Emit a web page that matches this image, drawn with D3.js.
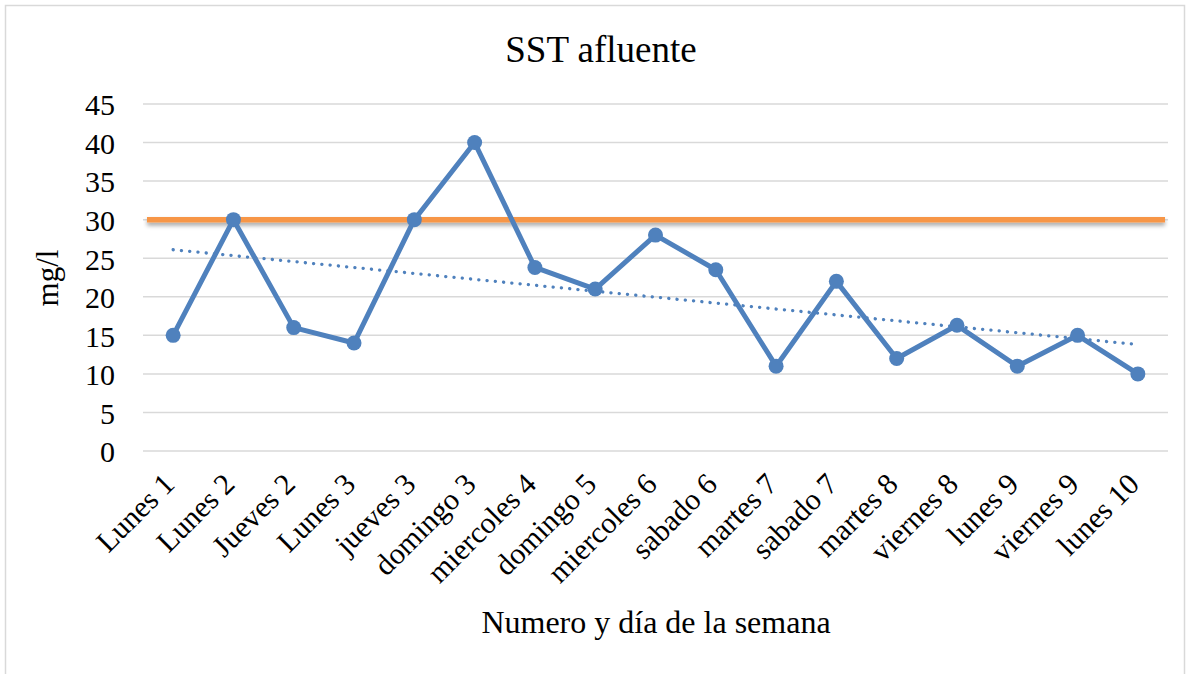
<!DOCTYPE html>
<html>
<head>
<meta charset="utf-8">
<script src="https://cdn.jsdelivr.net/npm/d3@7"></script>
<style>
  body { margin: 0; background: #fff; }
  svg text { font-family: "Liberation Serif", "Times New Roman", serif; fill: #000; }
</style>
</head>
<body>
<div id="chart"></div>
<script>
// Datos
const dias = ["Lunes 1", "Lunes 2", "Jueves 2", "Lunes 3", "jueves 3", "domingo 3",
  "miercoles 4", "domingo 5", "miercoles 6", "sabado 6", "martes 7", "sabado 7",
  "martes 8", "viernes 8", "lunes 9", "viernes 9", "lunes 10"];
const sst = [15, 30, 16, 14, 30, 40, 23.8, 21, 28, 23.5, 11, 22, 12, 16.3, 11, 15, 10];
const limite = 30;                 // linea naranja
const tendencia = [26.1, 13.8];    // linea de tendencia (inicio, fin)
const yTicks = [0, 5, 10, 15, 20, 25, 30, 35, 40, 45];

const W = 1190, H = 674;
const margin = { top: 104, right: 22, bottom: 223, left: 143 };
const width = W - margin.left - margin.right;
const height = H - margin.top - margin.bottom;

const svg = d3.select("#chart").append("svg")
  .attr("width", W)
  .attr("height", H);

// sombra de la linea naranja
const defs = svg.append("defs");
defs.append("filter")
  .attr("id", "sombra")
  .attr("filterUnits", "userSpaceOnUse")
  .attr("x", 0).attr("y", 0).attr("width", W).attr("height", H)
  .append("feDropShadow")
  .attr("dx", 0).attr("dy", 3).attr("stdDeviation", 2)
  .attr("flood-color", "#000").attr("flood-opacity", 0.35);

// borde del grafico
svg.append("rect")
  .attr("x", 5.5).attr("y", 5.5)
  .attr("width", 1179).attr("height", 680)
  .attr("fill", "none")
  .attr("stroke", "#D9D9D9")
  .attr("stroke-width", 1.5);

const g = svg.append("g")
  .attr("transform", `translate(${margin.left},${margin.top})`);

const x = d3.scaleBand()
  .domain(dias)
  .range([0, width]);

const y = d3.scaleLinear()
  .domain([0, 45])
  .range([height, 0]);

const cx = d => x(d) + x.bandwidth() / 2;

// lineas de cuadricula
g.append("g")
  .selectAll("line")
  .data(yTicks)
  .enter()
  .append("line")
  .attr("x1", 0)
  .attr("x2", width)
  .attr("y1", d => y(d))
  .attr("y2", d => y(d))
  .attr("stroke", "#D9D9D9")
  .attr("stroke-width", 1.5);

// eje Y
const yAxis = g.append("g")
  .call(d3.axisLeft(y).tickValues(yTicks).tickSize(0).tickPadding(28));
yAxis.select(".domain").remove();
yAxis.selectAll("text")
  .style("font-family", "Liberation Serif")
  .attr("font-size", 30)
  .attr("dy", "0.36em");

// eje X
const xAxis = g.append("g")
  .attr("transform", `translate(0,${height})`)
  .call(d3.axisBottom(x).tickSize(0).tickPadding(0));
xAxis.select(".domain").remove();
xAxis.selectAll("text")
  .style("font-family", "Liberation Serif")
  .attr("font-size", 30)
  .attr("text-anchor", "end")
  .attr("dy", null)
  .attr("y", 0)
  .attr("transform", "translate(3,35) rotate(-45)");

// linea naranja (limite)
g.append("line")
  .attr("x1", 4)
  .attr("x2", width - 3)
  .attr("y1", y(limite))
  .attr("y2", y(limite))
  .attr("stroke", "#F79646")
  .attr("stroke-width", 5.5)
  .attr("filter", "url(#sombra)");

// linea de tendencia
g.append("line")
  .attr("x1", cx(dias[0]))
  .attr("x2", cx(dias[dias.length - 1]))
  .attr("y1", y(tendencia[0]))
  .attr("y2", y(tendencia[1]))
  .attr("stroke", "#4F81BD")
  .attr("stroke-width", 3.3)
  .attr("stroke-linecap", "round")
  .attr("stroke-dasharray", "0.1 8.2");

// serie SST
const line = d3.line()
  .x((d, i) => cx(dias[i]))
  .y(d => y(d));

g.append("path")
  .datum(sst)
  .attr("fill", "none")
  .attr("stroke", "#4F81BD")
  .attr("stroke-width", 5)
  .attr("stroke-linejoin", "round")
  .attr("d", line);

g.selectAll("circle")
  .data(sst)
  .enter()
  .append("circle")
  .attr("cx", (d, i) => cx(dias[i]))
  .attr("cy", d => y(d))
  .attr("r", 7.5)
  .attr("fill", "#4F81BD");

// titulos
svg.append("text")
  .attr("x", 601)
  .attr("y", 62)
  .attr("text-anchor", "middle")
  .attr("font-size", 37)
  .text("SST afluente");

svg.append("text")
  .attr("transform", "translate(58,278) rotate(-90)")
  .attr("text-anchor", "middle")
  .attr("font-size", 31)
  .text("mg/l");

svg.append("text")
  .attr("x", 656)
  .attr("y", 633)
  .attr("text-anchor", "middle")
  .attr("font-size", 32)
  .text("Numero y día de la semana");
</script>
</body>
</html>
